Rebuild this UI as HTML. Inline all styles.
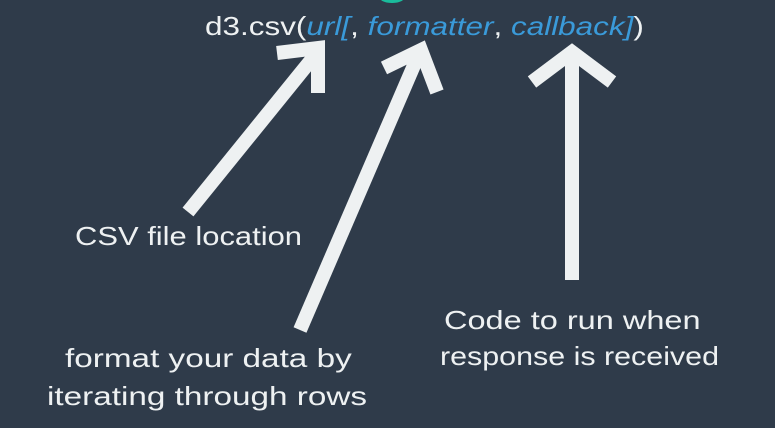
<!DOCTYPE html>
<html><head><style>
body{margin:0;width:775px;height:428px;background:#2f3b4a;overflow:hidden;position:relative;font-family:"Liberation Sans","DejaVu Sans",sans-serif;color:#eef1f2}
.t{position:absolute;font-size:26px;white-space:nowrap;line-height:1;transform-origin:0 0}
i{color:#3a9ad9}
</style></head><body>
<svg width="775" height="428" style="position:absolute;left:0;top:0">
<ellipse cx="392" cy="-2" rx="12" ry="5" fill="#1abc9c"/>
<g stroke="#eef1f2" stroke-width="14" fill="none" stroke-linejoin="miter">
<line x1="188" y1="212" x2="316" y2="54"/>
<polyline points="277,53 318,48 318,93"/>
<line x1="300" y1="330" x2="418" y2="56"/>
<polyline points="384,68 421,50 437,92"/>
<line x1="572" y1="280" x2="572" y2="58"/>
<polyline points="532,82 572,52 612,82"/>
</g>
</svg>
<div class="t" style="left:205px;top:13px;transform:scaleX(1.21)">d3.csv(<i>url[</i>, <i>formatter</i>, <i>callback]</i>)</div>
<div class="t" style="left:75px;top:223px;transform:scaleX(1.19)">CSV file location</div>
<div class="t" style="left:444px;top:307px;transform:scaleX(1.25)">Code to run when</div>
<div class="t" style="left:440px;top:343px;transform:scaleX(1.17)">response is received</div>
<div class="t" style="left:65px;top:345px;transform:scaleX(1.28)">format your data by</div>
<div class="t" style="left:47px;top:383px;transform:scaleX(1.28)">iterating through rows</div>
</body></html>
